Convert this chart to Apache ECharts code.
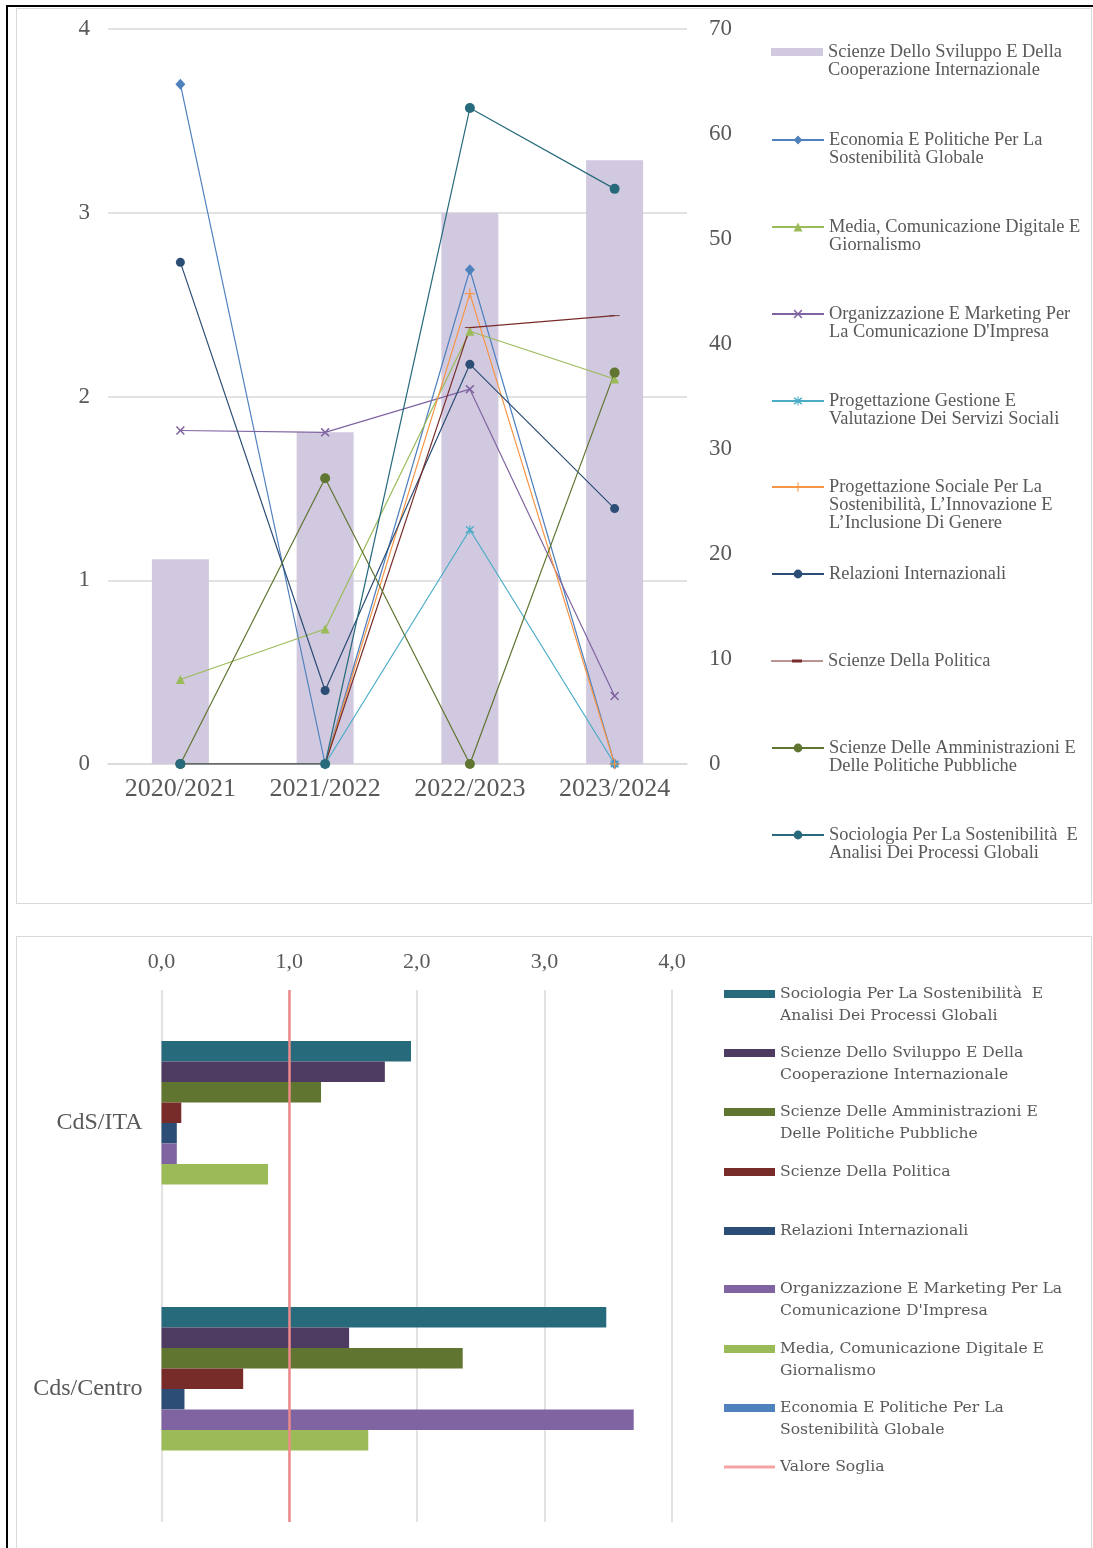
<!DOCTYPE html>
<html>
<head>
<meta charset="utf-8">
<script src="https://cdn.jsdelivr.net/npm/echarts@6/dist/echarts.min.js"></script>
<style>
  html, body { margin: 0; padding: 0; background: #fff; }
  body { width: 1093px; height: 1548px; position: relative; overflow: hidden; }
  .blackframe { position: absolute; left: 6px; top: 5px; width: 1100px; height: 1600px; border-left: 2px solid #000; border-top: 2px solid #000; }
  .box { position: absolute; border: 1px solid #d9d9d9; box-sizing: border-box; }
  #top { position: absolute; left: 16px; top: 8px; width: 1075px; height: 895px; }
  #bottom { position: absolute; left: 16px; top: 936px; width: 1075px; height: 612px; }
</style>
</head>
<body>
<div class="blackframe"></div>
<div class="box" style="left:16px;top:8px;width:1076px;height:896px;"></div>
<div class="box" style="left:16px;top:936px;width:1076px;height:700px;"></div>
<div id="top"></div>
<div id="bottom"></div>
<script>
// ---------- Top chart data ----------
const years = ['2020/2021', '2021/2022', '2022/2023', '2023/2024'];
const sviluppoBars = [19.5, 31.6, 52.5, 57.5];          // right axis
const economia = [3.70, 0, 2.69, 0];
const media = [0.46, 0.735, 2.355, 2.095];
const organizzazione = [1.815, 1.805, 2.04, 0.37];
const progGestione = [0, 0, 1.275, 0];
const progSociale = [0, 0, 2.56, 0];
const relazioni = [2.73, 0.40, 2.175, 1.39];
const politica = [0, 0, 2.375, 2.44];
const amministrazioni = [0, 1.555, 0, 2.13];
const sociologia = [0, 0, 3.57, 3.13];
const leftTicks = [0, 4, 1];   // min, max, interval
const rightTicks = [0, 70, 10];

// ---------- Bottom chart data ----------
const groups = ['CdS/ITA', 'Cds/Centro'];
const barSociologia = [1.955, 3.485];
const barSviluppo = [1.75, 1.47];
const barAmministrazioni = [1.25, 2.36];
const barPolitica = [0.155, 0.64];
const barRelazioni = [0.12, 0.18];
const barOrganizzazione = [0.12, 3.70];
const barMedia = [0.835, 1.62];
const barEconomia = [0, 0];
const threshold = [1];
const bottomTicks = [0, 4, 1];

// ---------- Names ----------
const N = {
  sviluppo: 'Scienze Dello Sviluppo E Della Cooperazione Internazionale',
  economia: 'Economia E Politiche Per La Sostenibilità Globale',
  media: 'Media, Comunicazione Digitale E Giornalismo',
  organizzazione: "Organizzazione E Marketing Per La Comunicazione D'Impresa",
  progGestione: 'Progettazione Gestione E Valutazione Dei Servizi Sociali',
  progSociale: 'Progettazione Sociale Per La Sostenibilità, L’Innovazione E L’Inclusione Di Genere',
  relazioni: 'Relazioni Internazionali',
  politica: 'Scienze Della Politica',
  amministrazioni: 'Scienze Delle Amministrazioni E Delle Politiche Pubbliche',
  sociologia: 'Sociologia Per La Sostenibilità  E Analisi Dei Processi Globali',
  soglia: 'Valore Soglia'
};
const topLegendText = [
  [N.sviluppo, 'Scienze Dello Sviluppo E Della\nCooperazione Internazionale'],
  [N.economia, 'Economia E Politiche Per La\nSostenibilità Globale'],
  [N.media, 'Media, Comunicazione Digitale E\nGiornalismo'],
  [N.organizzazione, "Organizzazione E Marketing Per\nLa Comunicazione D'Impresa"],
  [N.progGestione, 'Progettazione Gestione E\nValutazione Dei Servizi Sociali'],
  [N.progSociale, 'Progettazione Sociale Per La\nSostenibilità, L’Innovazione E\nL’Inclusione Di Genere'],
  [N.relazioni, 'Relazioni Internazionali'],
  [N.politica, 'Scienze Della Politica'],
  [N.amministrazioni, 'Scienze Delle Amministrazioni E\nDelle Politiche Pubbliche'],
  [N.sociologia, 'Sociologia Per La Sostenibilità  E\nAnalisi Dei Processi Globali']
];
const bottomLegendText = [
  [N.sociologia, 'Sociologia Per La Sostenibilità  E\nAnalisi Dei Processi Globali'],
  [N.sviluppo, 'Scienze Dello Sviluppo E Della\nCooperazione Internazionale'],
  [N.amministrazioni, 'Scienze Delle Amministrazioni E\nDelle Politiche Pubbliche'],
  [N.politica, 'Scienze Della Politica'],
  [N.relazioni, 'Relazioni Internazionali'],
  [N.organizzazione, "Organizzazione E Marketing Per La\nComunicazione D'Impresa"],
  [N.media, 'Media, Comunicazione Digitale E\nGiornalismo'],
  [N.economia, 'Economia E Politiche Per La\nSostenibilità Globale'],
  [N.soglia, 'Valore Soglia']
];

const GRAY = '#595959';
const GRID = '#d9d9d9';
const SERIF = "'Liberation Serif', 'Times New Roman', serif";

const SYM_X = 'path://M0,1.2L1.2,0L5,3.8L8.8,0L10,1.2L6.2,5L10,8.8L8.8,10L5,6.2L1.2,10L0,8.8L3.8,5Z';
const SYM_STAR = 'path://M0,1.2L1.2,0L5,3.8L8.8,0L10,1.2L6.2,5L10,8.8L8.8,10L5,6.2L1.2,10L0,8.8L3.8,5Z M4.4,-1L5.6,-1L5.6,11L4.4,11Z';
const SYM_PLUS = 'path://M4.4,0L5.6,0L5.6,4.4L10,4.4L10,5.6L5.6,5.6L5.6,10L4.4,10L4.4,5.6L0,5.6L0,4.4L4.4,4.4Z';
const SYM_DASH = 'path://M0,0L10,0L10,3L0,3Z';
// legend icon for the dash-marker line: thin line with a short thick dash in the middle
const ICON_DASH_LINE = 'path://M0,0L0.2,0L0.2,0.05Z M0,11L0.2,11L0.2,10.95Z M0,4.9L52,4.9L52,6.1L0,6.1Z M21,4L31,4L31,7L21,7Z';

function lineSeries(name, data, color, symbol, size, keepAspect) {
  return {
    name, type: 'line', data, yAxisIndex: 0,
    symbol, symbolSize: size, symbolKeepAspect: !!keepAspect,
    lineStyle: { color, width: 1.2 },
    itemStyle: { color },
    emphasis: { disabled: true },
    z: 3
  };
}

// Legend text: leading blank lines keep the icon level with the first text line
function legendLabel(text) {
  const n = text.split('\n').length;
  return '\n'.repeat(n - 1) + text;
}

// ---------- Top chart ----------
const topChart = echarts.init(document.getElementById('top'), null, { renderer: 'canvas' });
const topLineH = 18;
const topFirstLine = [44, 132, 219, 306, 393, 479, 566, 653, 740, 827];
const topLegends = topLegendText.map((pair, i) => {
  const n = pair[1].split('\n').length;
  const isBar = i === 0;
  const lg = {
    data: [pair[0]],
    left: 755,
    top: topFirstLine[i] - topLineH / 2 - (n - 1) * topLineH,
    orient: 'vertical',
    padding: 0,
    itemWidth: 52,
    itemHeight: isBar ? 8 : 11,
    selectedMode: false,
    formatter: () => legendLabel(pair[1]),
    textStyle: { fontFamily: SERIF, fontSize: 18.4, lineHeight: topLineH, color: GRAY }
  };
  if (isBar) lg.icon = 'rect';
  if (pair[0] === N.politica) lg.icon = ICON_DASH_LINE;
  return lg;
});

topChart.setOption({
  animation: false,
  legend: topLegends,
  grid: { left: 92, top: 21, width: 579, height: 735 },
  xAxis: {
    type: 'category', data: years,
    axisLine: { show: true, lineStyle: { color: GRID, width: 1.5 } },
    axisTick: { show: false },
    axisLabel: { color: GRAY, fontFamily: SERIF, fontSize: 26, margin: 12 }
  },
  yAxis: [
    {
      type: 'value', min: leftTicks[0], max: leftTicks[1], interval: leftTicks[2],
      axisLine: { show: false }, axisTick: { show: false },
      splitLine: { lineStyle: { color: GRID, width: 1.5 } },
      axisLabel: { color: GRAY, fontFamily: SERIF, fontSize: 23, margin: 18 }
    },
    {
      type: 'value', min: rightTicks[0], max: rightTicks[1], interval: rightTicks[2],
      position: 'right',
      axisLine: { show: false }, axisTick: { show: false },
      splitLine: { show: false },
      axisLabel: { color: GRAY, fontFamily: SERIF, fontSize: 23, margin: 22 }
    }
  ],
  series: [
    {
      name: N.sviluppo, type: 'bar', data: sviluppoBars, yAxisIndex: 1,
      barWidth: 57, itemStyle: { color: '#d1c9df' }, emphasis: { disabled: true }, z: 1
    },
    lineSeries(N.economia, economia, '#4f81bd', 'diamond', [10, 11]),
    lineSeries(N.media, media, '#9bbb59', 'triangle', 9),
    lineSeries(N.organizzazione, organizzazione, '#8064a2', SYM_X, 9),
    lineSeries(N.progGestione, progGestione, '#4bacc6', SYM_STAR, 9),
    lineSeries(N.progSociale, progSociale, '#f79646', SYM_PLUS, 10),
    lineSeries(N.relazioni, relazioni, '#2c4d75', 'circle', 9),
    lineSeries(N.politica, politica, '#772c2a', SYM_DASH, [10, 3], true),
    lineSeries(N.amministrazioni, amministrazioni, '#5f7530', 'circle', 10),
    lineSeries(N.sociologia, sociologia, '#276a7c', 'circle', 10)
  ]
});

// ---------- Bottom chart ----------
const bottomChart = echarts.init(document.getElementById('bottom'), null, { renderer: 'canvas' });
const botLineH = 22;
const botFirstLine = [58, 117, 176, 236, 295, 353, 413, 472, 531];
const LEG_FONT = "'DejaVu Serif', serif";
const botLegends = bottomLegendText.map((pair, i) => {
  const n = pair[1].split('\n').length;
  const isLine = pair[0] === N.soglia;
  const lg = {
    data: [pair[0]],
    left: 708,
    top: botFirstLine[i] - botLineH / 2 - (n - 1) * botLineH,
    orient: 'vertical',
    padding: 0,
    itemWidth: 51,
    itemHeight: isLine ? 3 : 8,
    icon: 'rect',
    selectedMode: false,
    formatter: () => legendLabel(pair[1]),
    textStyle: { fontFamily: LEG_FONT, fontSize: 15.6, lineHeight: botLineH, color: GRAY }
  };
  if (isLine) lg.itemStyle = { color: '#f5a3a3' };
  return lg;
});

function hbar(name, data, color) {
  return {
    name, type: 'bar', data, barWidth: 20.5, barGap: '0%',
    itemStyle: { color }, emphasis: { disabled: true }
  };
}

bottomChart.setOption({
  animation: false,
  legend: botLegends,
  grid: { left: 145.5, top: 54, width: 510.5, height: 532 },
  xAxis: {
    type: 'value', position: 'top', min: bottomTicks[0], max: bottomTicks[1], interval: bottomTicks[2],
    axisLine: { show: false }, axisTick: { show: false },
    splitLine: { lineStyle: { color: GRID, width: 1.5 } },
    axisLabel: {
      color: GRAY, fontFamily: SERIF, fontSize: 22, margin: 17,
      formatter: v => v.toFixed(1).replace('.', ',')
    }
  },
  yAxis: {
    type: 'category', data: groups, inverse: true,
    axisLine: { show: false }, axisTick: { show: false },
    axisLabel: { color: GRAY, fontFamily: SERIF, fontSize: 24, margin: 19 }
  },
  series: [
    hbar(N.sociologia, barSociologia, '#276a7c'),
    hbar(N.sviluppo, barSviluppo, '#4d3b62'),
    hbar(N.amministrazioni, barAmministrazioni, '#60752f'),
    hbar(N.politica, barPolitica, '#772c2a'),
    hbar(N.relazioni, barRelazioni, '#2c4d75'),
    hbar(N.organizzazione, barOrganizzazione, '#8064a2'),
    hbar(N.media, barMedia, '#9bbb59'),
    hbar(N.economia, barEconomia, '#4f81bd'),
    {
      name: N.soglia, type: 'line', data: [], symbol: 'none',
      lineStyle: { color: '#f29191', width: 2.5 },
      itemStyle: { color: '#f29191' },
      markLine: {
        silent: true, symbol: 'none', label: { show: false },
        lineStyle: { color: '#ec8a8a', width: 2.5, type: 'solid' },
        data: [{ xAxis: threshold[0] }]
      },
      z: 5
    }
  ]
});
</script>
</body>
</html>
